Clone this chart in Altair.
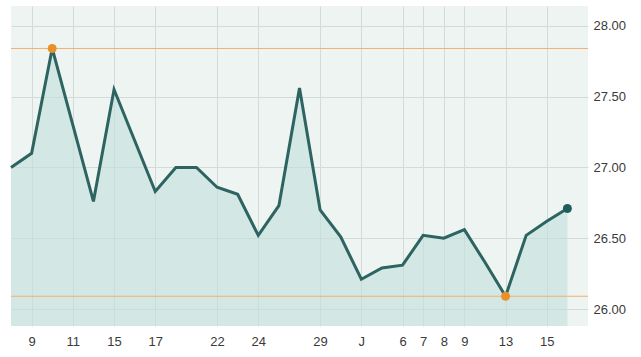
import altair as alt
import pandas as pd

# Closing prices, one per trading day (index 0 = first day shown)
prices = [27.00, 27.10, 27.84, 27.30, 26.76, 27.55, 27.19, 26.83, 27.00, 27.00,
          26.86, 26.81, 26.52, 26.73, 27.56, 26.70, 26.51, 26.21, 26.29, 26.31,
          26.52, 26.50, 26.56, 26.33, 26.09, 26.52, 26.62, 26.71]
tick_index = [1, 3, 5, 7, 10, 12, 15, 17, 19, 20, 21, 22, 24, 26]
tick_labels = ["9", "11", "15", "17", "22", "24", "29", "J", "6", "7", "8", "9", "13", "15"]
y_ticks = [26.0, 26.5, 27.0, 27.5, 28.0]

Y_MIN, Y_MAX = 25.88, 28.14

df = pd.DataFrame({"i": list(range(len(prices))), "price": prices})
imax = prices.index(max(prices))
imin = prices.index(min(prices))
ext = pd.DataFrame({"i": [imax, imin], "price": [prices[imax], prices[imin]]})
last = df.tail(1)

label_map = "{" + ",".join(f'"{k}":"{v}"' for k, v in zip(tick_index, tick_labels)) + "}"

W, H = 577, 320
xs = alt.Scale(domain=[0, 28], nice=False, zero=False)
ys = alt.Scale(domain=[Y_MIN, Y_MAX], nice=False, zero=False)

x_axis = alt.Axis(values=tick_index, labelExpr=f"{label_map}[datum.value]", grid=True,
                  gridColor="#d3dbd8", ticks=False, domain=False, labelFontSize=13,
                  labelColor="#3a3a3a", labelFont="Liberation Sans", labelPadding=9,
                  title=None)
y_axis = alt.Axis(values=y_ticks, format=".2f", orient="right", grid=True,
                  gridColor="#d3dbd8", ticks=False, domain=False, labelFontSize=13,
                  labelColor="#3a3a3a", labelFont="Liberation Sans", labelPadding=5,
                  title=None)

base = alt.Chart(df)
area = base.mark_area(color="#c1e0dd", opacity=0.6, clip=True).encode(
    x=alt.X("i:Q", scale=xs, axis=x_axis),
    y=alt.Y("price:Q", scale=ys, axis=y_axis),
    y2=alt.Y2(datum=Y_MIN),
)
rules = alt.Chart(ext).mark_rule(color="#f3b06a", strokeWidth=1).encode(
    y=alt.Y("price:Q", scale=ys),
    x=alt.value(0), x2=alt.value(W),
)
line = base.mark_line(color="#2d6360", strokeWidth=3).encode(
    x=alt.X("i:Q", scale=xs), y=alt.Y("price:Q", scale=ys)
)
dots = alt.Chart(ext).mark_circle(color="#e8902a", opacity=1, size=80).encode(
    x=alt.X("i:Q", scale=xs), y=alt.Y("price:Q", scale=ys)
)
end = alt.Chart(last).mark_circle(color="#1f5e58", opacity=1, size=80).encode(
    x=alt.X("i:Q", scale=xs), y=alt.Y("price:Q", scale=ys)
)

chart = alt.layer(area, rules, line, dots, end).properties(
    width=W, height=H,
    padding={"left": 11, "top": 6, "right": 53, "bottom": 31},
    autosize="none",
    background="white",
).configure_view(fill="#eef4f1", stroke=None)

chart.save("out.html", embed_options={"renderer": "svg", "actions": False})
